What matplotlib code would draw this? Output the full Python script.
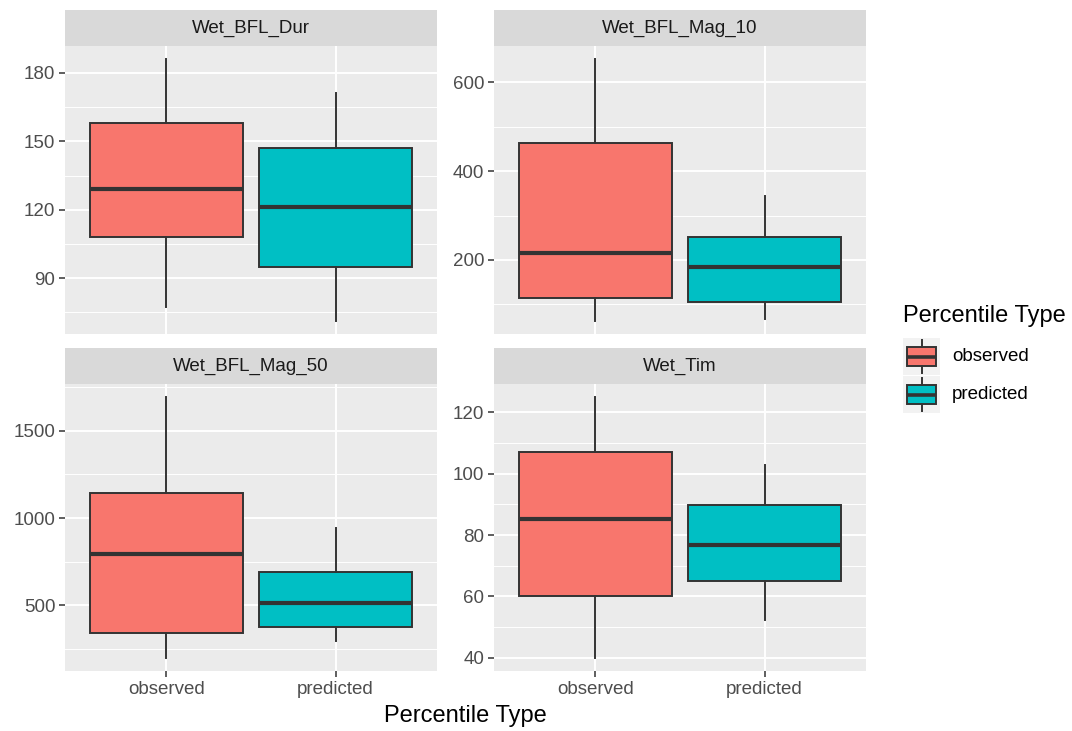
import matplotlib
matplotlib.use("Agg")
import matplotlib.pyplot as plt
import numpy as np
from matplotlib.patches import Rectangle

plt.rcParams["font.family"] = ["Liberation Sans", "DejaVu Sans"]

# ---- data ----
panels = ["Wet_BFL_Dur", "Wet_BFL_Mag_10", "Wet_BFL_Mag_50", "Wet_Tim"]
groups = ["observed", "predicted"]
colors = ["#F8766D", "#00BFC4"]

# per panel: [observed, predicted]
whislo = [[77.4, 71.3], [63, 67], [197, 294], [40, 52.2]]
q1     = [[108, 94.8], [114.6, 105.6], [340, 374], [60, 64.9]]
med    = [[129.3, 121], [215.7, 184], [794, 511], [85.2, 76.7]]
q3     = [[158.2, 147.2], [463, 251.7], [1143, 689], [107, 89.8]]
whishi = [[186, 171.3], [651.7, 343.8], [1694, 943], [124.9, 102.9]]

major_ticks = [[90, 120, 150, 180], [200, 400, 600], [500, 1000, 1500], [40, 60, 80, 100, 120]]

W, H = 1072, 731
fig = plt.figure(figsize=(W / 100, H / 100), dpi=100)
fig.patch.set_facecolor("white")

# panel pixel boxes
cols = [(65, 437), (494, 866)]
rows = [(46, 334), (384, 671)]
strip_h = 36

TICK_COL = "#4D4D4D"
EDGE = "#333333"
TICK_FS = 13.5
STRIP_FS = 13.5
TITLE_FS = 17

for i, name in enumerate(panels):
    r, c = divmod(i, 2)
    x0, x1 = cols[c]
    y0, y1 = rows[r]
    ax = fig.add_axes([x0 / W, 1 - y1 / H, (x1 - x0) / W, (y1 - y0) / H])
    ax.set_facecolor("#EBEBEB")
    for s in ax.spines.values():
        s.set_visible(False)

    stats = []
    for g in range(2):
        stats.append(dict(med=med[i][g], q1=q1[i][g], q3=q3[i][g],
                          whislo=whislo[i][g], whishi=whishi[i][g],
                          fliers=[], label=groups[g]))
    bp = ax.bxp(stats, positions=[1, 2], widths=0.9, patch_artist=True,
                showcaps=False, showfliers=False,
                boxprops=dict(edgecolor=EDGE, linewidth=1.4),
                whiskerprops=dict(color=EDGE, linewidth=1.4),
                medianprops=dict(color=EDGE, linewidth=3.0, solid_capstyle="butt"),
                zorder=3)
    for patch, col in zip(bp["boxes"], colors):
        patch.set_facecolor(col)

    mt = major_ticks[i]
    step = mt[1] - mt[0]
    ax.set_yticks(mt)
    ax.set_yticklabels([str(t) for t in mt])
    minors = [mt[0] - step / 2] + [t + step / 2 for t in mt]
    ax.set_yticks(minors, minor=True)
    ax.set_xticks([1, 2])

    ax.grid(True, which="major", color="white", linewidth=1.4, zorder=0)
    ax.grid(True, which="minor", axis="y", color="white", linewidth=0.7, zorder=0)
    ax.set_axisbelow(True)
    ax.tick_params(axis="both", which="major", colors="#333333", labelcolor=TICK_COL,
                   labelsize=TICK_FS, length=4, width=1.1, pad=3)
    ax.tick_params(axis="y", which="minor", length=0)
    if r == 1:
        ax.set_xticklabels(groups)
    else:
        ax.set_xticklabels([])
        ax.tick_params(axis="x", which="major", length=0)

    lo = min(whislo[i]); hi = max(whishi[i])
    pad = 0.05 * (hi - lo)
    ax.set_ylim(lo - pad, hi + pad)
    ax.set_xlim(0.4, 2.6)

    # strip
    sax = fig.add_axes([x0 / W, 1 - y0 / H, (x1 - x0) / W, strip_h / H])
    sax.set_facecolor("#D9D9D9")
    sax.set_xticks([]); sax.set_yticks([])
    for s in sax.spines.values():
        s.set_visible(False)
    sax.text(0.5, 0.5, name, ha="center", va="center", fontsize=STRIP_FS,
             color="#1A1A1A", transform=sax.transAxes)

# x axis title
fig.text((65 + 866) / 2 / W, 1 - 716 / H, "Percentile Type", ha="center",
         va="center", fontsize=TITLE_FS, color="black")

# legend
fig.text(903 / W, 1 - 316 / H, "Percentile Type", ha="left", va="center",
         fontsize=TITLE_FS, color="black")
for k, (lab, col) in enumerate(zip(groups, colors)):
    ky0 = 338 + k * 38
    lax = fig.add_axes([903 / W, 1 - (ky0 + 37) / H, 37 / W, 37 / H])
    lax.set_facecolor("#F2F2F2")
    lax.set_xlim(0, 1); lax.set_ylim(0, 1)
    lax.set_xticks([]); lax.set_yticks([])
    for s in lax.spines.values():
        s.set_visible(False)
    lax.plot([0.5, 0.5], [0.05, 0.25], color=EDGE, lw=1.4)
    lax.plot([0.5, 0.5], [0.75, 0.95], color=EDGE, lw=1.4)
    lax.add_patch(Rectangle((0.1, 0.25), 0.8, 0.5, facecolor=col, edgecolor=EDGE, lw=1.4))
    lax.plot([0.1, 0.9], [0.5, 0.5], color=EDGE, lw=2.6, solid_capstyle="butt")
    fig.text(952 / W, 1 - (ky0 + 18.5) / H, lab, ha="left", va="center",
             fontsize=TICK_FS, color="black")

fig.savefig("out.png", dpi=100)
